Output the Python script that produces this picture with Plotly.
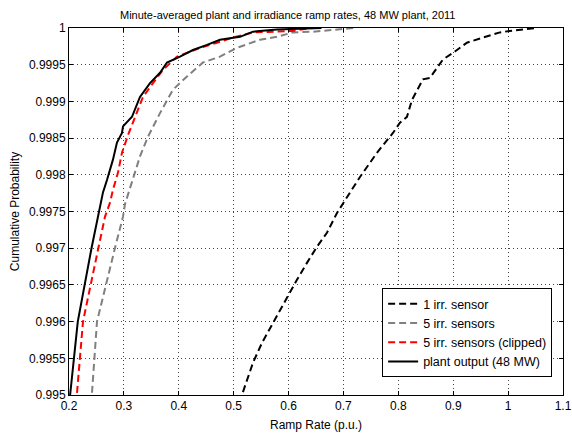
import plotly.graph_objects as go

title_text = "Minute-averaged plant and irradiance ramp rates, 48 MW plant, 2011"
x_label = "Ramp Rate (p.u.)"
y_label = "Cumulative Probability"

series_names = ["1 irr. sensor", "5 irr. sensors", "5 irr. sensors (clipped)", "plant output (48 MW)"]

one_sensor_x = [0.5169, 0.5352, 0.5516, 0.5716, 0.5843, 0.6026, 0.6153, 0.6335, 0.6517, 0.6699,
                0.6882, 0.7155, 0.7301, 0.7610, 0.7902, 0.8029, 0.8157, 0.8248, 0.8448, 0.8576,
                0.8812, 0.9031, 0.9250, 0.9541, 0.9851, 1.003, 1.034, 1.05]
one_sensor_y = [0.99504, 0.99544, 0.99571, 0.99598, 0.99616, 0.99639, 0.99657, 0.99680, 0.99702, 0.99721,
                0.99748, 0.99780, 0.99797, 0.99830, 0.99857, 0.99871, 0.99879, 0.99902, 0.99930, 0.99932,
                0.99957, 0.99968, 0.99980, 0.99987, 0.99994, 0.99996, 0.99999, 1.0]

five_sensor_x = [0.2419, 0.2510, 0.284, 0.2984, 0.302, 0.3111, 0.3293, 0.3439, 0.3658, 0.3894,
                 0.4149, 0.4441, 0.4750, 0.5060, 0.5479, 0.5789, 0.6080, 0.6444, 0.6882, 0.72]
five_sensor_y = [0.99503, 0.99600, 0.99701, 0.99743, 0.99760, 0.99782, 0.99825, 0.99852, 0.99884, 0.99916,
                 0.99934, 0.99953, 0.99961, 0.99973, 0.99984, 0.99988, 0.99994, 0.99995, 0.99998, 1.0]

clipped_x = [0.2146, 0.2255, 0.2537, 0.2656, 0.2747, 0.2802, 0.2893, 0.2965, 0.308, 0.3202,
             0.3348, 0.3530, 0.3712, 0.3967, 0.4386, 0.4696, 0.4987, 0.5352, 0.5716, 0.6080, 0.64]
clipped_y = [0.99503, 0.99600, 0.99701, 0.99743, 0.99762, 0.99780, 0.99803, 0.99830, 0.99855, 0.99879,
             0.99906, 0.99925, 0.99943, 0.99961, 0.99973, 0.99980, 0.99987, 0.99994, 0.99995, 0.99996, 1.0]

plant_x = [0.202, 0.216, 0.241, 0.2528, 0.2565, 0.2619, 0.2692, 0.2747, 0.2802, 0.2874,
           0.2965, 0.2984, 0.3148, 0.3293, 0.3476, 0.3658, 0.3785, 0.4022, 0.4259, 0.4514,
           0.4750, 0.5115, 0.5352, 0.5789, 0.6262, 0.66]
plant_y = [0.99500, 0.99600, 0.99700, 0.99743, 0.99756, 0.99776, 0.99793, 0.99807, 0.99821, 0.99844,
           0.99857, 0.99866, 0.99879, 0.99906, 0.99925, 0.99939, 0.99953, 0.99961, 0.99970, 0.99977,
           0.99984, 0.99988, 0.99995, 0.99998, 0.99999, 1.0]

x_ticks = [0.2, 0.3, 0.4, 0.5, 0.6, 0.7, 0.8, 0.9, 1.0, 1.1]
x_tick_text = ["0.2", "0.3", "0.4", "0.5", "0.6", "0.7", "0.8", "0.9", "1", "1.1"]
y_ticks = [0.995, 0.9955, 0.996, 0.9965, 0.997, 0.9975, 0.998, 0.9985, 0.999, 0.9995, 1.0]
y_tick_text = ["0.995", "0.9955", "0.996", "0.9965", "0.997", "0.9975", "0.998", "0.9985", "0.999", "0.9995", "1"]

FONT = "Liberation Sans, Arial, sans-serif"

fig = go.Figure()
fig.add_trace(go.Scatter(x=one_sensor_x, y=one_sensor_y, mode="lines", name=series_names[0],
                         line=dict(color="black", width=2, dash="7px,4px")))
fig.add_trace(go.Scatter(x=five_sensor_x, y=five_sensor_y, mode="lines", name=series_names[1],
                         line=dict(color="#808080", width=2, dash="7px,4px")))
fig.add_trace(go.Scatter(x=clipped_x, y=clipped_y, mode="lines", name=series_names[2],
                         line=dict(color="#ff0000", width=2, dash="7px,4px")))
fig.add_trace(go.Scatter(x=plant_x, y=plant_y, mode="lines", name=series_names[3],
                         line=dict(color="black", width=2)))

axis_common = dict(
    showline=True, linecolor="black", linewidth=1, mirror="ticks",
    ticks="inside", ticklen=4, tickcolor="black",
    showgrid=True, gridcolor="#444444", gridwidth=1, griddash="1px,3px",
    zeroline=False, automargin=False,
    tickfont=dict(family=FONT, size=12, color="black"),
)

fig.update_xaxes(range=[0.2, 1.1], tickvals=x_ticks, ticktext=x_tick_text,
                 title=dict(text=x_label, font=dict(family=FONT, size=12, color="black"), standoff=8),
                 **axis_common)
fig.update_yaxes(range=[0.995, 1.0], tickvals=y_ticks, ticktext=y_tick_text,
                 title=dict(text=y_label, font=dict(family=FONT, size=12, color="black"), standoff=6),
                 **axis_common)

fig.update_layout(
    width=572, height=433,
    margin=dict(l=69, r=9, t=28, b=38),
    paper_bgcolor="white", plot_bgcolor="white",
    title=dict(text=title_text, x=0.503, xanchor="center", y=0.965, yanchor="middle",
               font=dict(family=FONT, size=11, color="black")),
    showlegend=True,
    legend=dict(x=0.978, xanchor="right", y=0.049, yanchor="bottom",
                bgcolor="white", bordercolor="black", borderwidth=1,
                font=dict(family=FONT, size=12.5, color="black"),
                tracegroupgap=0, itemwidth=30),
    font=dict(family=FONT, color="black"),
)

fig.write_html("out.html")
